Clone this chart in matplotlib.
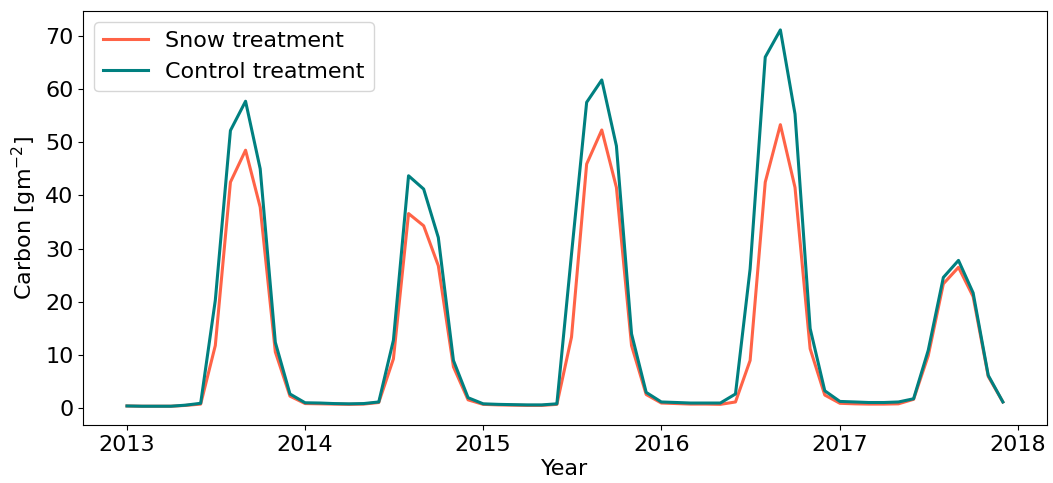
import numpy as np
import pandas as pd
import matplotlib
matplotlib.use("Agg")
import matplotlib.pyplot as plt
import matplotlib.dates as mdates

# monthly carbon values, Jan 2013 .. Dec 2017
months = pd.date_range(start="2013-01-01", periods=60, freq="MS")

snow = [
    0.45, 0.4, 0.4, 0.4, 0.55, 0.8, 11.8, 42.5, 48.5, 37.8, 10.6, 2.3,
    0.9, 0.85, 0.8, 0.75, 0.8, 1.1, 9.3, 36.6, 34.3, 26.8, 7.8, 1.6,
    0.75, 0.65, 0.6, 0.55, 0.55, 0.75, 13.4, 45.9, 52.3, 41.5, 11.8, 2.6,
    1.0, 0.9, 0.8, 0.8, 0.75, 1.2, 9.0, 42.5, 53.3, 41.5, 11.2, 2.5,
    0.95, 0.85, 0.8, 0.8, 0.85, 1.7, 9.9, 23.4, 26.5, 21.0, 6.0, 1.2,
]
control = [
    0.45, 0.4, 0.4, 0.4, 0.6, 0.95, 20.3, 52.2, 57.7, 45.0, 12.4, 2.7,
    1.05, 1.0, 0.9, 0.85, 0.9, 1.2, 12.8, 43.7, 41.2, 32.1, 9.0, 2.0,
    0.85, 0.75, 0.7, 0.65, 0.65, 0.85, 29.0, 57.5, 61.7, 49.3, 14.0, 3.0,
    1.2, 1.1, 1.0, 1.0, 1.0, 2.7, 26.2, 66.0, 71.1, 55.3, 15.0, 3.3,
    1.3, 1.2, 1.1, 1.1, 1.2, 1.8, 10.9, 24.6, 27.8, 21.7, 6.2, 1.2,
]

fig = plt.figure(figsize=(10.53, 4.83), dpi=100)
ax = fig.add_axes([0.079, 0.12, 0.915, 0.857])

ax.plot(months, snow, color="tomato", lw=2.2, label="Snow treatment")
ax.plot(months, control, color="teal", lw=2.2, label="Control treatment")

ax.xaxis.set_major_locator(mdates.YearLocator())
ax.xaxis.set_major_formatter(mdates.DateFormatter("%Y"))
ax.tick_params(labelsize=16)
ax.set_xlabel("Year", fontsize=16, labelpad=3)
ax.set_ylabel("Carbon [gm$^{-2}$]", fontsize=16)
ax.legend(loc="upper left", fontsize=16)

fig.savefig("out.png", dpi=100)
